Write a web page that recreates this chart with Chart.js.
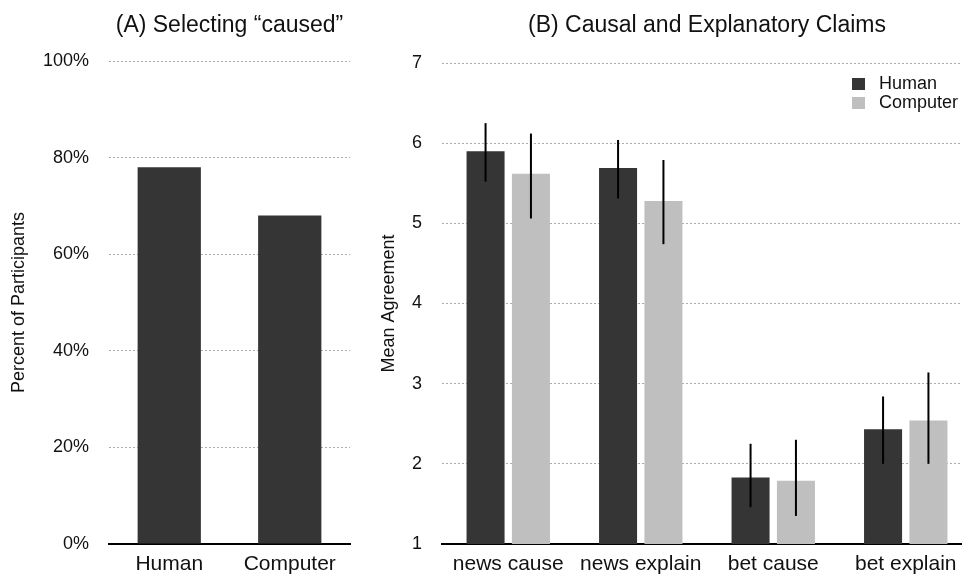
<!DOCTYPE html>
<html>
<head>
<meta charset="utf-8">
<title>Causal judgments: human vs computer</title>
<script src="https://cdn.jsdelivr.net/npm/chart.js@4.4.1/dist/chart.umd.min.js"></script>
<style>
  html, body { margin: 0; padding: 0; background: #ffffff; overflow: hidden; }
  #wrap { position: relative; width: 962px; height: 576px; overflow: hidden; }
  #panelA { position: absolute; left: 0; top: 0; width: 370px; height: 576px; }
  #panelB { position: absolute; left: 370px; top: 0; width: 602px; height: 576px; }
</style>
</head>
<body>
<div id="wrap">
  <div id="panelA"><canvas id="chartA"></canvas></div>
  <div id="panelB"><canvas id="chartB"></canvas></div>
</div>
<script>
// Panel A: share of participants choosing "caused"
const agentCategories = ['Human', 'Computer'];
const pctCaused = [78, 68];
const pctTicks = [0, 20, 40, 60, 80, 100];

// Panel B: mean agreement per claim type, with interval bounds
const claimCategories = ['news cause', 'news explain', 'bet cause', 'bet explain'];
const humanMean = [5.90, 5.69, 1.83, 2.43];
const humanLow = [5.52, 5.31, 1.46, 2.00];
const humanHigh = [6.25, 6.04, 2.25, 2.84];
const computerMean = [5.62, 5.28, 1.79, 2.54];
const computerLow = [5.06, 4.74, 1.35, 2.00];
const computerHigh = [6.12, 5.79, 2.30, 3.14];
const agreementTicks = [1, 2, 3, 4, 5, 6, 7];

const DARK = '#353535';
const LIGHT = '#bfbfbf';
const TEXT = '#111111';
const GRID = '#ababab';

Chart.defaults.font.family = '"Liberation Sans", Arial, Helvetica, sans-serif';
Chart.defaults.color = TEXT;
Chart.defaults.animation = false;

// vertical interval lines drawn on top of each bar
const errorBars = {
  id: 'errorBars',
  afterDatasetsDraw(chart) {
    const ctx = chart.ctx;
    const y = chart.scales.y;
    chart.data.datasets.forEach((ds, d) => {
      if (!ds.errLow) return;
      const meta = chart.getDatasetMeta(d);
      meta.data.forEach((bar, i) => {
        ctx.save();
        ctx.strokeStyle = '#000000';
        ctx.lineWidth = 2;
        ctx.beginPath();
        ctx.moveTo(bar.x, y.getPixelForValue(ds.errLow[i]));
        ctx.lineTo(bar.x, y.getPixelForValue(ds.errHigh[i]));
        ctx.stroke();
        ctx.restore();
      });
    });
  }
};

// stacked legend in the upper right corner of the plot
const cornerLegend = {
  id: 'cornerLegend',
  afterDraw(chart) {
    const ctx = chart.ctx;
    const area = chart.chartArea;
    const x0 = area.right - 120;
    let y0 = area.top + 15;
    ctx.save();
    ctx.font = '18px "Liberation Sans", Arial, Helvetica, sans-serif';
    ctx.textBaseline = 'middle';
    ctx.textAlign = 'left';
    chart.data.datasets.forEach(ds => {
      ctx.fillStyle = ds.backgroundColor;
      ctx.fillRect(x0, y0, 13, 12);
      ctx.fillStyle = TEXT;
      ctx.fillText(ds.label, x0 + 27, y0 + 6.5);
      y0 += 19;
    });
    ctx.restore();
  }
};

function yAxis(min, max, ticks, fmt, titleText, width) {
  return {
    min: min, max: max,
    afterFit(s) { s.width = width; },
    afterBuildTicks(s) { s.ticks = ticks.map(v => ({ value: v })); },
    ticks: { padding: 20, font: { size: 18 }, color: TEXT, callback: fmt },
    grid: { color: GRID, lineWidth: 1, drawTicks: false, tickLength: 0 },
    border: { display: false, dash: [2, 2] },
    title: { display: true, text: titleText, font: { size: 18 }, color: TEXT, padding: { top: 8, bottom: 0 } }
  };
}

function xAxis() {
  return {
    afterFit(s) { s.height = 32; },
    ticks: { padding: 8, font: { size: 21 }, color: TEXT, maxRotation: 0 },
    grid: { display: false, drawTicks: false },
    border: { display: true, color: '#000000', width: 2 }
  };
}

// title spans only the plot width so it sits centred above the bars
function titleOpts(text, bottom) {
  return {
    display: true, text: text, color: TEXT,
    fullSize: false,
    font: { size: 23, weight: 'normal' },
    padding: { top: 12, bottom: bottom }
  };
}

new Chart(document.getElementById('chartA'), {
  type: 'bar',
  data: {
    labels: agentCategories,
    datasets: [{
      label: 'Selecting caused',
      data: pctCaused,
      backgroundColor: DARK,
      borderWidth: 0,
      barPercentage: 0.525,
      categoryPercentage: 1.0
    }]
  },
  options: {
    responsive: true,
    maintainAspectRatio: false,
    layout: { padding: { left: 0, right: 20, top: 0, bottom: 0 } },
    plugins: {
      legend: { display: false },
      tooltip: { enabled: false },
      title: titleOpts('(A) Selecting \u201ccaused\u201d', 21.4)
    },
    scales: {
      x: xAxis(),
      y: yAxis(0, 100, pctTicks, v => v + '%', 'Percent of Participants', 109)
    }
  }
});

new Chart(document.getElementById('chartB'), {
  type: 'bar',
  data: {
    labels: claimCategories,
    datasets: [
      {
        label: 'Human',
        data: humanMean,
        errLow: humanLow,
        errHigh: humanHigh,
        backgroundColor: DARK,
        borderWidth: 0,
        barPercentage: 0.838,
        categoryPercentage: 0.685
      },
      {
        label: 'Computer',
        data: computerMean,
        errLow: computerLow,
        errHigh: computerHigh,
        backgroundColor: LIGHT,
        borderWidth: 0,
        barPercentage: 0.838,
        categoryPercentage: 0.685
      }
    ]
  },
  options: {
    responsive: true,
    maintainAspectRatio: false,
    layout: { padding: { left: 0, right: 0, top: 0, bottom: 0 } },
    plugins: {
      legend: { display: false },
      tooltip: { enabled: false },
      title: titleOpts('(B) Causal and Explanatory Claims', 23.4)
    },
    scales: {
      x: xAxis(),
      y: yAxis(1, 7, agreementTicks, v => String(v), 'Mean Agreement', 72)
    }
  },
  plugins: [errorBars, cornerLegend]
});
</script>
</body>
</html>
